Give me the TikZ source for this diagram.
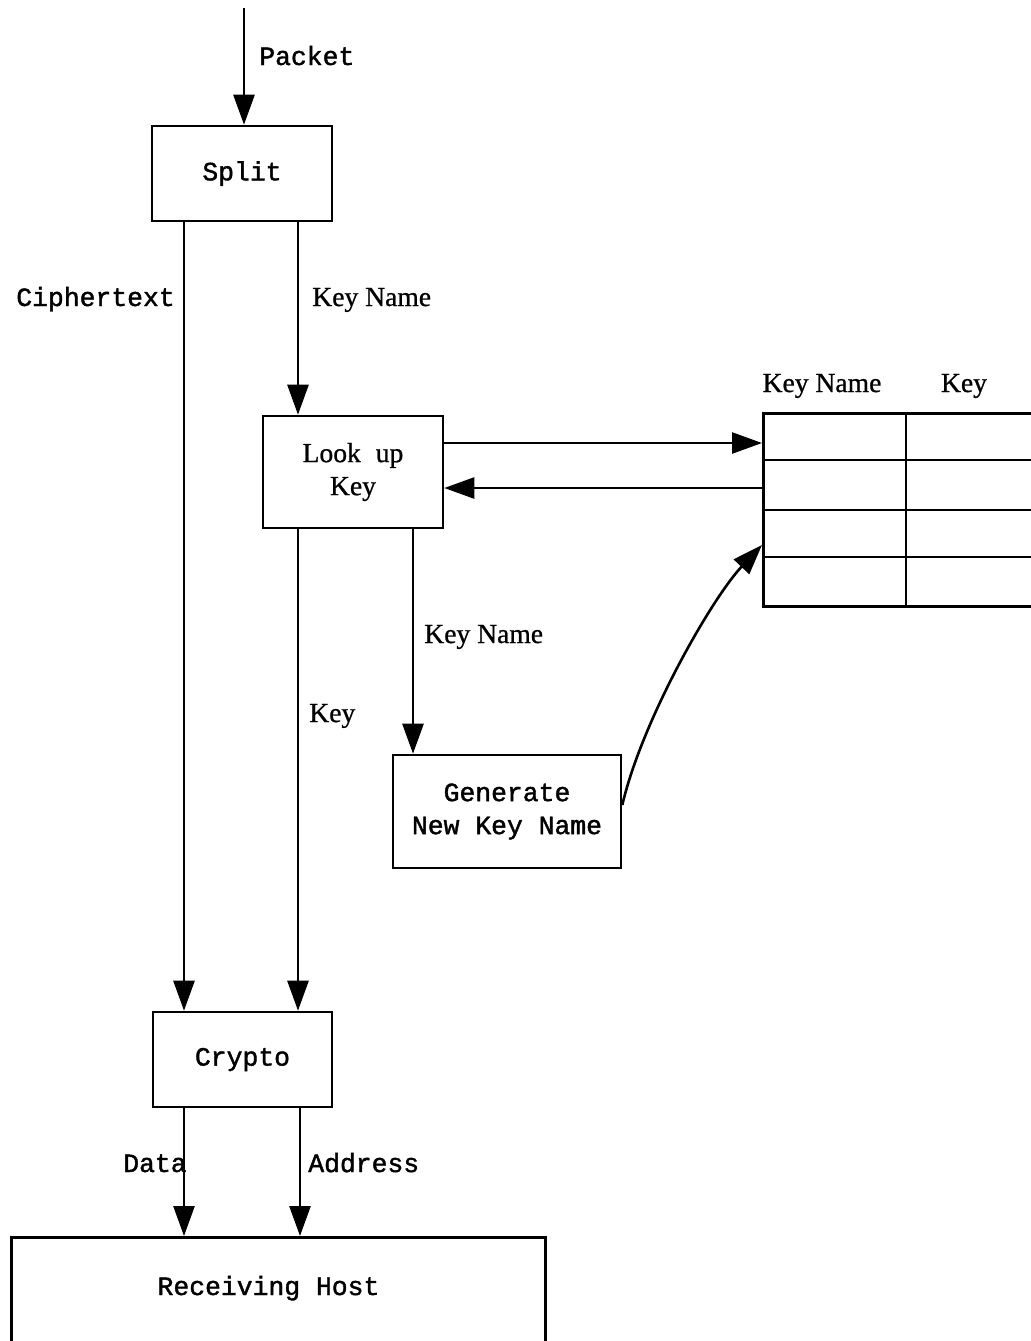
\documentclass[tikz,border=0pt]{standalone}
\usepackage{fontspec}
\setmonofont[FakeBold=1.5]{Liberation Mono}
\newfontfamily\serifl[FakeBold=0.8]{Liberation Serif}
\usetikzlibrary{arrows.meta}
\begin{document}
\begin{tikzpicture}[x=0.5pt,y=-0.5pt,
  line width=1.3pt,
  box/.style={draw, line width=1.3pt, inner sep=0pt, align=center},
  arr/.style={-{Triangle[length=15pt,width=10.5pt]}},
  mono/.style={font=\fontsize{13.2pt}{16.5pt}\selectfont\ttfamily},
  ser/.style={font=\fontsize{13.8pt}{16.5pt}\selectfont\serifl},
  lbl/.style={inner sep=0pt, anchor=base west},
]
\useasboundingbox (0,0) rectangle (1030,1341);
\fill[white] (0,0) rectangle (1030,1341);

% boxes
\node[box,mono,minimum width=90pt,minimum height=47.5pt] (split) at (242,173.5) {Split};
\node[box,ser,minimum width=90pt,minimum height=56pt] (lookup) at (353,472) {Look\hspace{4pt} up\\Key};
\node[box,mono,minimum width=114pt,minimum height=56.5pt] (gen) at (507,811.5) {Generate\\New Key Name};
\node[box,mono,minimum width=89.5pt,minimum height=47.5pt] (crypto) at (242.5,1059.5) {Crypto};
\node[box,minimum width=267pt,minimum height=70pt,anchor=north west] (host) at (10,1236) {};
\node[mono,inner sep=0pt,anchor=base] (hostlbl) at (268.5,1295) {Receiving Host};

% table
\node[box,minimum width=139pt,minimum height=96.5pt,anchor=north west] (table) at (762,412) {};
\draw (762,460) -- (1040,460);
\draw (762,510) -- (1040,510);
\draw (762,557) -- (1040,557);
\draw (906,412) -- (906,605);
\node[ser,inner sep=0pt,anchor=base] (hkn) at (822,392) {Key Name};
\node[ser,inner sep=0pt,anchor=base] (hk) at (964,392) {Key};

% helper coordinates
\coordinate (in) at (244,8);
\coordinate (xc) at (184,0);
\coordinate (xk) at (298,0);
\coordinate (xn) at (413,0);
\coordinate (xa) at (300,0);
\coordinate (y1) at (0,443);
\coordinate (y2) at (0,488);
\coordinate (cs) at (0,805);
\coordinate (ce) at (0,545);

% connectors
\draw[arr] (in) -- (split.north -| in);
\draw[arr] (split.south -| xc) -- (crypto.north -| xc);
\draw[arr] (split.south -| xk) -- (lookup.north -| xk);
\draw[arr] (lookup.east |- y1) -- (table.west |- y1);
\draw[arr] (table.west |- y2) -- (lookup.east |- y2);
\draw[arr] (lookup.south -| xk) -- (crypto.north -| xk);
\draw[arr] (lookup.south -| xn) -- (gen.north -| xn);
\draw[arr] (gen.east |- cs) .. controls (642,720) and (712,598) .. (table.west |- ce);
\draw[arr] (crypto.south -| xc) -- (host.north -| xc);
\draw[arr] (crypto.south -| xa) -- (host.north -| xa);

% labels
\node[mono,lbl] (lpacket) at (258,65) {Packet};
\node[mono,lbl] (lcipher) at (15,306) {Ciphertext};
\node[ser,lbl] (lkn1) at (311,306) {Key Name};
\node[ser,lbl] (lkn2) at (423,643) {Key Name};
\node[ser,lbl] (lkey) at (308,722) {Key};
\node[mono,lbl] (ldata) at (122,1172) {Data};
\node[mono,lbl] (laddr) at (307,1172) {Address};
\end{tikzpicture}
\end{document}
